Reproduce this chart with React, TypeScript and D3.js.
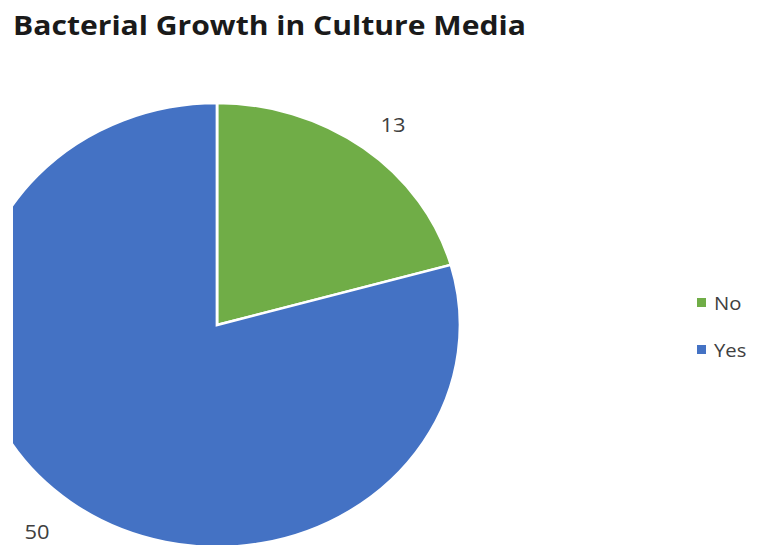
import React from "react";
import * as d3 from "d3";

const categories = ["No", "Yes"];
const values = [13, 50];
const colors = ["#70AD47", "#4472C4"];
const title = "Bacterial Growth in Culture Media";

export default function App() {
  const W = 759, H = 545;
  const cx = 217, cy = 325, ry = 222, rx = 243;
  const sx = rx / ry;
  const pie = d3.pie<number>().sort(null).value((d) => d)(values);
  const arc = d3.arc<d3.PieArcDatum<number>>().innerRadius(0).outerRadius(ry);
  const labelPos = [
    { x: 393, y: 132 },
    { x: 37, y: 539 },
  ];
  return (
    <svg width={W} height={H} style={{ position: "absolute", left: 0, top: 0, background: "#fff" }}>
      <defs>
        <clipPath id="clip">
          <rect x={13} y={0} width={W - 13} height={H} />
        </clipPath>
      </defs>
      <g transform={`translate(13,35) scale(${sx},1)`}>
        <text x={0} y={0} fontFamily="'Open Sans', sans-serif" fontWeight="bold" fontSize={27.5} fill="#1a1a1a">
          {title}
        </text>
      </g>
      <g clipPath="url(#clip)">
        <g transform={`translate(${cx},${cy}) scale(${sx},1)`}>
          {pie.map((p, i) => (
            <path key={i} d={arc(p) || ""} fill={colors[i]} stroke="#fff" strokeWidth={2.5} />
          ))}
        </g>
      </g>
      {pie.map((p, i) => (
        <g key={i} transform={`translate(${labelPos[i].x},${labelPos[i].y}) scale(${sx},1)`}>
          <text x={0} y={0} textAnchor="middle" fontFamily="'Open Sans', sans-serif" fontSize={20} fill="#404040">
            {String(p.data)}
          </text>
        </g>
      ))}
      {categories.map((c, i) => (
        <g key={c} transform={`translate(697,${303 + i * 47})`}>
          <rect x={0} y={-5} width={9} height={9} fill={colors[i]} />
          <g transform={`translate(17,7) scale(${sx},1)`}>
            <text x={0} y={0} fontFamily="'Open Sans', sans-serif" fontSize={18.5} fill="#404040">
              {c}
            </text>
          </g>
        </g>
      ))}
    </svg>
  );
}
